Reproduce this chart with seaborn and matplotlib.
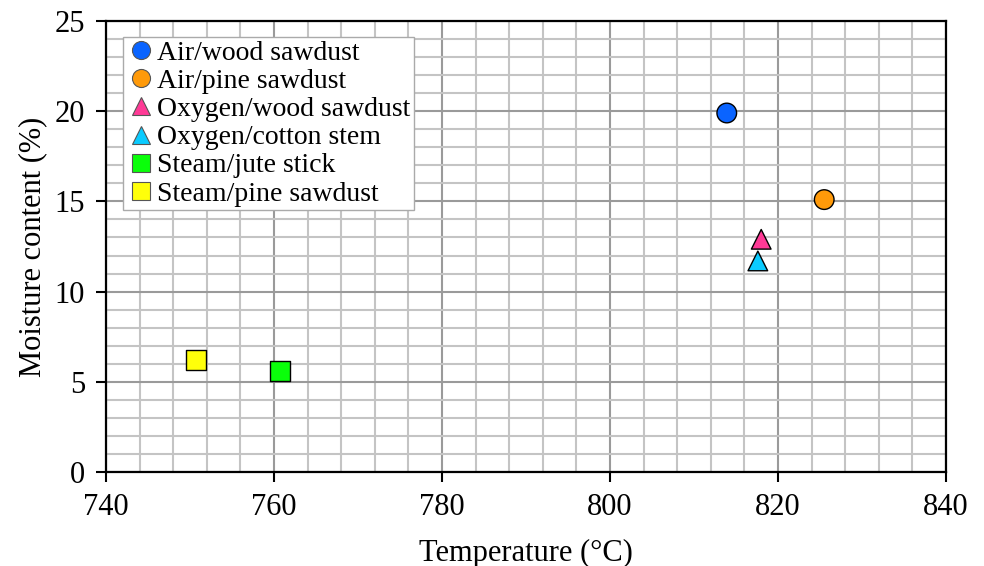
import matplotlib
matplotlib.use("Agg")
import matplotlib.pyplot as plt
import seaborn as sns
import pandas as pd
from matplotlib.ticker import MultipleLocator

series = ["Air/wood sawdust", "Air/pine sawdust", "Oxygen/wood sawdust",
          "Oxygen/cotton stem", "Steam/jute stick", "Steam/pine sawdust"]
temperature = [813.9, 825.5, 818.0, 817.6, 760.7, 750.7]
moisture = [19.9, 15.1, 12.9, 11.7, 5.6, 6.2]
colors = ["#0a64ff", "#ff9a0a", "#ff3a96", "#0acbff", "#0aff0a", "#ffff0a"]
markers = ["o", "o", "^", "^", "s", "s"]

df = pd.DataFrame({"Temperature": temperature, "Moisture": moisture, "Series": series})

sns.set_theme(style="white")
plt.rcParams["font.family"] = ["Liberation Serif", "DejaVu Serif"]
plt.rcParams["mathtext.fontset"] = "stix"
plt.rcParams["text.color"] = "black"
plt.rcParams["axes.labelcolor"] = "black"
plt.rcParams["xtick.color"] = "black"
plt.rcParams["ytick.color"] = "black"

fig = plt.figure(figsize=(9.84, 5.66), dpi=100)
ax = fig.add_axes([0.1077, 0.1661, 0.8537, 0.7968])

sns.scatterplot(data=df, x="Temperature", y="Moisture", hue="Series", style="Series",
                hue_order=series, style_order=series,
                palette=dict(zip(series, colors)), markers=dict(zip(series, markers)),
                s=200, edgecolor="black", linewidth=1.0, ax=ax, zorder=3, legend=True)

ax.set_xlim(740, 840)
ax.set_ylim(0, 25)
ax.xaxis.set_major_locator(MultipleLocator(20))
ax.xaxis.set_minor_locator(MultipleLocator(4))
ax.yaxis.set_major_locator(MultipleLocator(5))
ax.yaxis.set_minor_locator(MultipleLocator(1))
ax.grid(which="minor", color="#c4c4c4", linewidth=1.5, zorder=0)
ax.grid(which="major", color="#9a9a9a", linewidth=1.5, zorder=1)
ax.set_axisbelow(True)
ax.tick_params(which="major", direction="out", length=7, width=1.5, color="black",
               labelsize=22, labelcolor="black",
               bottom=True, left=True, top=False, right=False)
ax.tick_params(axis="x", which="major", pad=8)
ax.tick_params(axis="y", which="major", pad=8)
ax.tick_params(which="minor", length=0)
for sp in ax.spines.values():
    sp.set_color("black")
    sp.set_linewidth(1.6)

ax.set_xlabel("Temperature (°C)", fontsize=22, labelpad=12, color="black")
ax.set_ylabel("Moisture content (%)", fontsize=22, labelpad=5, color="black")

leg = ax.legend(loc="upper left", bbox_to_anchor=(0.02, 0.965), fontsize=20,
                frameon=True, fancybox=False, edgecolor="#aaaaaa", framealpha=1,
                handletextpad=0.05, labelspacing=0.1, borderpad=0.12,
                handlelength=1.08, borderaxespad=0)
leg.get_frame().set_linewidth(1.0)
for t in leg.get_texts():
    t.set_color("black")
for h in leg.legend_handles:
    h.set_markersize(13)
    h.set_markeredgecolor("#555555")
    h.set_markeredgewidth(0.8)

fig.savefig("out.png", dpi=100)
